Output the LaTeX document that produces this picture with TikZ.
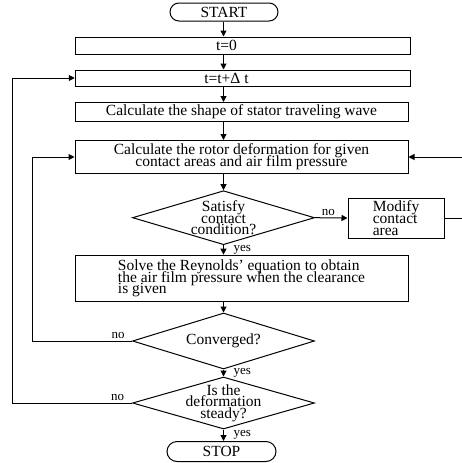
\documentclass[tikz,border=0pt]{standalone}
\usepackage{fontspec}
\setmainfont{Liberation Serif}
\usetikzlibrary{shapes.geometric,shapes.misc,arrows.meta,positioning}
\newcommand\flowfont{\fontsize{15.5}{11.7}\selectfont\lineskiplimit=-50pt\relax}

\begin{document}
\begin{tikzpicture}[
    x=1pt, y=-1pt,
    font=\flowfont,
    box/.style={rectangle, draw, line width=1pt, minimum width=333pt, minimum height=17pt, inner sep=1pt, align=center},
    term/.style={rounded rectangle, draw, line width=1pt, minimum width=108pt, minimum height=18pt, inner sep=0pt},
    decision/.style={diamond, aspect=3.3, draw, line width=1pt, minimum width=182pt, minimum height=54pt, inner sep=-5pt, align=center},
    arrow/.style={-{Triangle[length=6pt,width=6pt]}, line width=1pt},
    lbl/.style={font=\fontsize{13}{13}\selectfont, inner sep=1.5pt}
]
    \useasboundingbox (0,0) rectangle (461,463);

    \node[term] (start) at (224,12) {START};
    \node[box, minimum width=335.5pt] (init) at (243,45.5) {t=0\hspace*{33pt}};
    \node[box, minimum width=335.5pt, minimum height=16pt] (step) at (243,78) {t=t+Δ t\hspace*{33pt}};
    \node[box, minimum height=19pt] (stator) at (241.5,112) {Calculate the shape of stator traveling wave};
    \node[box, minimum height=33pt] (rotor) at (241.5,157) {Calculate the rotor deformation for given\\contact areas and air film pressure};
    \node[decision] (contact) at (223.5,217.7) {Satisfy\\contact\\condition?};
    \node[box, minimum width=96pt, minimum height=40pt, align=left] (modify) at (396,218) {Modify\\contact\\area};
    \node[box, minimum height=46.5pt, align=left] (reynolds) at (241.5,278.4) {Solve the Reynolds' equation to obtain\\the air film pressure when the clearance\\is given};
    \node[decision, minimum height=56pt] (conv) at (223.5,341) {Converged?};
    \node[decision, minimum height=52pt] (steady) at (223.5,403) {Is the\\deformation\\steady?};
    \node[term, minimum width=109pt, minimum height=20pt] (stop) at (221.5,451.5) {STOP};

    % main flow
    \draw[arrow] (start.south -| contact) -- (init.north -| contact);
    \draw[arrow] (init.south -| contact) -- (step.north -| contact);
    \draw[arrow] (step.south -| contact) -- (stator.north -| contact);
    \draw[arrow] (stator.south -| contact) -- (rotor.north -| contact);
    \draw[arrow] (rotor.south -| contact) -- (contact.north);
    \draw[arrow] (contact.south) -- node[lbl, right=8pt] {yes} (contact.south |- reynolds.north);
    \draw[arrow] (reynolds.south -| conv) -- (conv.north);
    \draw[arrow] (conv.south) -- node[lbl, right=8pt] {yes} (steady.north);
    \draw[arrow] (steady.south) -- node[lbl, right=8pt] {yes} (steady.south |- stop.north);

    % loops back
    \draw[arrow] (contact.east) -- node[lbl, above, pos=0.41] {no} (modify.west);
    \draw[arrow] (modify.east) -- ++(19,0) |- (rotor.east);
    \draw[arrow] (conv.west) -- node[lbl, above, pos=0.14] {no} ++(-99.5,0) |- (rotor.west);
    \draw[arrow] (steady.west) -- node[lbl, above, pos=0.12] {no} ++(-119.5,0) |- (step.west);
\end{tikzpicture}
\end{document}
